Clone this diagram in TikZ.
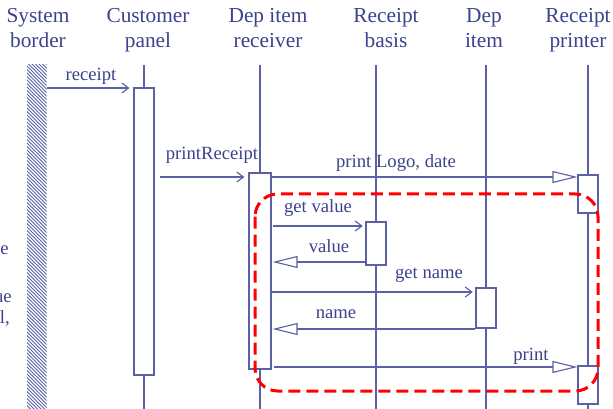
\documentclass[tikz,border=0pt]{standalone}
\usepackage{fontspec}
\setmainfont{Liberation Serif}
\usetikzlibrary{arrows.meta}
\definecolor{ink}{RGB}{60,66,140}
\definecolor{wire}{RGB}{92,97,165}
\definecolor{loopred}{RGB}{255,0,0}
\begin{document}
\begin{tikzpicture}[x=0.75pt,y=-0.75pt,
  head/.style={font=\fontsize{16}{18.75}\selectfont, text=ink, align=center, anchor=north, inner sep=0pt},
  lbl/.style={font=\fontsize{14}{16}\selectfont, text=ink, anchor=base, inner sep=0pt},
  life/.style={draw=wire, line width=0.85pt},
  act/.style={draw=wire, fill=white, line width=0.85pt, rectangle, inner sep=0pt, minimum width=15pt},
  call/.style={draw=wire, line width=0.85pt, -{Straight Barb[length=5pt,width=7.5pt]}, shorten >=3pt},
  reply/.style={draw=wire, line width=0.85pt, -{Triangle[open,length=18.75pt,width=9pt]}},
  loopframe/.style={draw=loopred, line width=2.25pt, dash pattern=on 9pt off 4.5pt, rounded corners=17pt}]
\useasboundingbox (0,0) rectangle (613,409);

% column headings
\node[head] (hSys) at (38,8.5) {System\\border};
\node[head] (hCp)  at (148,8.5) {Customer\\panel};
\node[head] (hRcv) at (268,8.5) {Dep item\\receiver};
\node[head] (hBas) at (386,8.5) {Receipt\\basis};
\node[head] (hItm) at (484,8.5) {Dep\\item};
\node[head] (hPrt) at (578,8.5) {Receipt\\printer};

% text running in from the left edge
\node[lbl, anchor=base east] (fragA) at (9,255) {e};
\node[lbl, anchor=base east] (fragB) at (12,302) {ue};
\node[lbl, anchor=base east] (fragC) at (10,323) {l,};

% system border (hatched bar)
\node[inner sep=0pt, minimum width=14.25pt, minimum height=258pt, anchor=north west] (sysb) at (27,65) {};
\begin{scope}
  \clip (sysb.north west) rectangle (sysb.south east);
  \foreach \k in {-8,...,100}
    \draw[wire, line width=0.75pt] (26,65+3.5*\k) -- (47,86+3.5*\k);
\end{scope}

% lifelines
\foreach \n/\x in {cp/144, rcv/260, bas/376, itm/486, prt/588} {
  \coordinate (\n Top) at (\x,65);
  \coordinate (\n Bot) at (\x,409);
  \draw[life] (\n Top) -- (\n Bot);
}

% activation boxes
\node[act, minimum height=215.25pt] (cpbox)  at (144,231.5) {};
\node[act, minimum width=16.5pt, minimum height=147pt] (rcvbox) at (260,271) {};
\node[act, minimum height=32.25pt]  (basbox) at (376,243.5) {};
\node[act, minimum height=30pt]     (itmbox) at (486,308) {};
\node[act, minimum height=28.5pt]   (prtA)   at (588,194) {};
\node[act, minimum height=28.5pt]   (prtB)   at (588,385) {};

% message heights
\coordinate (m1) at (0,88);
\coordinate (m2) at (0,177);
\coordinate (m3) at (0,177);
\coordinate (m4) at (0,226);
\coordinate (m5) at (0,262);
\coordinate (m6) at (0,292);
\coordinate (m7) at (0,329);
\coordinate (m8) at (0,367);

% messages
\draw[call] (sysb.east |- m1) -- (cpbox.west |- m1);
\draw[call, shorten <=3.75pt] (cpbox.east |- m2) -- (rcvbox.west |- m2);
\draw[reply] (rcvbox.east |- m3) -- (prtA.west |- m3);
\draw[call, shorten <=0.75pt, shorten >=2pt] (rcvbox.east |- m4) -- (basbox.west |- m4);
\draw[reply, shorten >=0.75pt] (basbox.west |- m5) -- (rcvbox.east |- m5);
\draw[call, shorten >=2pt] (rcvbox.east |- m6) -- (itmbox.west |- m6);
\draw[reply, shorten >=0.75pt] (itmbox.west |- m7) -- (rcvbox.east |- m7);
\draw[reply, shorten <=1.5pt] (rcvbox.east |- m8) -- (prtB.west |- m8);

% message labels
\node[lbl] (lReceipt) at (91,81) {receipt};
\node[lbl] (lPrintReceipt) at (212,160) {printReceipt};
\node[lbl] (lLogo) at (396,168) {print Logo, date};
\node[lbl] (lGetValue) at (318,213) {get value};
\node[lbl] (lValue) at (329,253) {value};
\node[lbl] (lGetName) at (429,278) {get name};
\node[lbl] (lName) at (336,318) {name};
\node[lbl] (lPrint) at (531,360) {print};

% loop frame
\draw[loopframe] (255,194) rectangle (598,391);
\end{tikzpicture}
\end{document}
